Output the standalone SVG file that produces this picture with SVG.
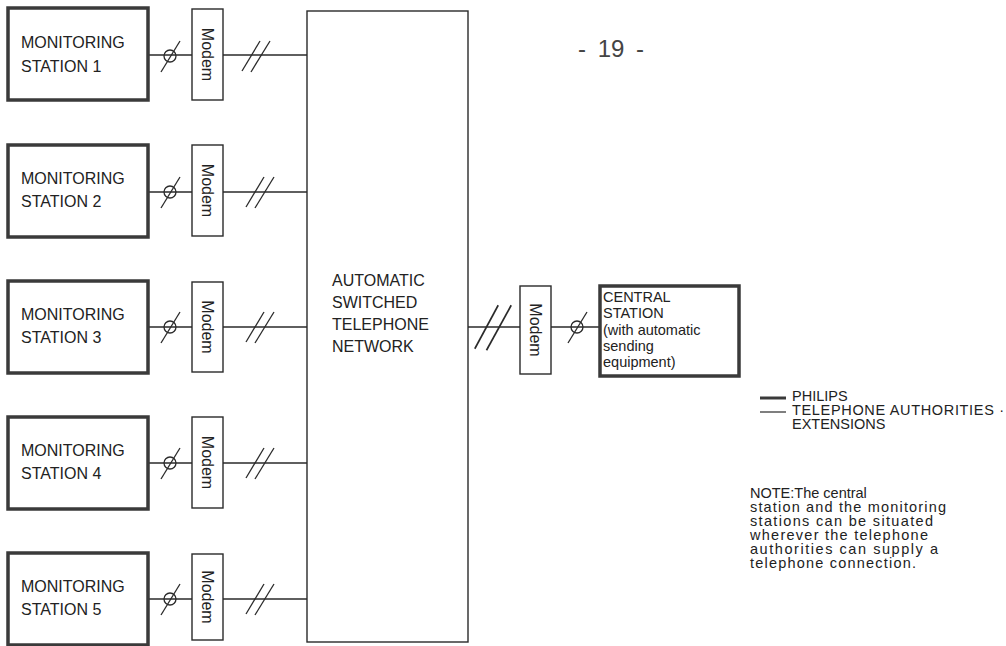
<svg xmlns="http://www.w3.org/2000/svg" width="1006" height="646" viewBox="0 0 1006 646">
<style>
.bg{fill:#fff}
.thick{fill:#fff;stroke:#3a3a3a;stroke-width:3.5}
.thin{fill:#fff;stroke:#2a2a2a;stroke-width:1.4}
.ln{fill:none;stroke:#2a2a2a;stroke-width:1.4}
.t{font-family:"Liberation Sans",Arial,sans-serif;font-size:16px;fill:#222}
.c{font-family:"Liberation Sans",Arial,sans-serif;font-size:14.5px;fill:#222}
.m{font-family:"Liberation Sans",Arial,sans-serif;font-size:16px;fill:#222}
.n{font-family:"Liberation Sans",Arial,sans-serif;font-size:14.5px;fill:#222}
</style>
<defs>
<g id="cs">
<circle cx="0" cy="0" r="6" fill="none" stroke="#2a2a2a" stroke-width="1.3"/>
<line x1="-9" y1="16" x2="10" y2="-15" stroke="#2a2a2a" stroke-width="1.3"/>
</g>
<g id="ds">
<line x1="-14" y1="15" x2="4" y2="-15" stroke="#2a2a2a" stroke-width="1.3"/>
<line x1="-5" y1="16" x2="14" y2="-15" stroke="#2a2a2a" stroke-width="1.3"/>
</g>
</defs>
<rect class="bg" x="0" y="0" width="1006" height="646"/>

<g id="connectors">
<line class="ln" x1="148" y1="55" x2="307" y2="55"/>
<line class="ln" x1="148" y1="192" x2="307" y2="192"/>
<line class="ln" x1="148" y1="327" x2="307" y2="327"/>
<line class="ln" x1="148" y1="463" x2="307" y2="463"/>
<line class="ln" x1="148" y1="599" x2="307" y2="599"/>
<line class="ln" x1="468" y1="327" x2="600" y2="327"/>
<use href="#cs" x="170" y="56"/>
<use href="#cs" x="170" y="192"/>
<use href="#cs" x="170" y="327"/>
<use href="#cs" x="170" y="463"/>
<use href="#cs" x="170" y="599"/>
<use href="#cs" x="577" y="327"/>
<use href="#ds" x="256" y="56"/>
<use href="#ds" x="260" y="192"/>
<use href="#ds" x="260" y="327"/>
<use href="#ds" x="260" y="463"/>
<use href="#ds" x="260" y="599"/>
<g transform="translate(493 327) scale(1.3 1.45)"><use href="#ds"/></g>
</g>

<g id="station1"><rect class="thick" x="8" y="8" width="140" height="92"/><text class="t" x="21" y="48">MONITORING</text><text class="t" x="21" y="72">STATION 1</text></g>
<g id="station2"><rect class="thick" x="8" y="145" width="140" height="92"/><text class="t" x="21" y="184">MONITORING</text><text class="t" x="21" y="207">STATION 2</text></g>
<g id="station3"><rect class="thick" x="8" y="281" width="140" height="92"/><text class="t" x="21" y="320">MONITORING</text><text class="t" x="21" y="343">STATION 3</text></g>
<g id="station4"><rect class="thick" x="8" y="417" width="140" height="92"/><text class="t" x="21" y="456">MONITORING</text><text class="t" x="21" y="479">STATION 4</text></g>
<g id="station5"><rect class="thick" x="8" y="553" width="140" height="92"/><text class="t" x="21" y="592">MONITORING</text><text class="t" x="21" y="615">STATION 5</text></g>

<g id="modem1"><rect class="thin" x="192" y="9" width="31" height="91"/><text class="m" transform="translate(202 54.5) rotate(90)" text-anchor="middle">Modem</text></g>
<g id="modem2"><rect class="thin" x="192" y="145" width="31" height="91"/><text class="m" transform="translate(202 190.5) rotate(90)" text-anchor="middle">Modem</text></g>
<g id="modem3"><rect class="thin" x="192" y="282" width="31" height="90"/><text class="m" transform="translate(202 327) rotate(90)" text-anchor="middle">Modem</text></g>
<g id="modem4"><rect class="thin" x="192" y="417" width="31" height="91"/><text class="m" transform="translate(202 462.5) rotate(90)" text-anchor="middle">Modem</text></g>
<g id="modem5"><rect class="thin" x="192" y="554" width="31" height="86"/><text class="m" transform="translate(202 597) rotate(90)" text-anchor="middle">Modem</text></g>

<g id="network"><rect class="thin" x="307" y="11" width="161" height="631"/>
<text class="t" x="332" y="286">AUTOMATIC</text>
<text class="t" x="332" y="308">SWITCHED</text>
<text class="t" x="332" y="330">TELEPHONE</text>
<text class="t" x="332" y="352">NETWORK</text></g>

<g id="modem6"><rect class="thin" x="520" y="286" width="31" height="88"/><text class="m" transform="translate(530 330) rotate(90)" text-anchor="middle">Modem</text></g>

<g id="central"><rect class="thick" x="600" y="286" width="139" height="90"/>
<text class="c" x="603" y="302">CENTRAL</text>
<text class="c" x="603" y="318">STATION</text>
<text class="c" x="603" y="334.5">(with automatic</text>
<text class="c" x="603" y="351">sending</text>
<text class="c" x="603" y="367">equipment)</text></g>

<g id="pagenum"><text x="611" y="57" text-anchor="middle" style="font-family:'Liberation Sans',Arial,sans-serif;font-size:24px;fill:#444;word-spacing:5px">- 19 -</text></g>

<g id="legend">
<line x1="760" y1="398" x2="786" y2="398" stroke="#3a3a3a" stroke-width="3"/>
<line x1="760" y1="412" x2="786" y2="412" stroke="#2a2a2a" stroke-width="1.2"/>
<text class="n" x="792" y="401">PHILIPS</text>
<text class="n" x="792" y="415" textLength="212" lengthAdjust="spacing">TELEPHONE AUTHORITIES ·</text>
<text class="n" x="792" y="429">EXTENSIONS</text>
</g>

<g id="note">
<text class="n" x="750" y="498">NOTE:The central</text>
<text class="n" x="750" y="512" textLength="196" lengthAdjust="spacing">station and the monitoring</text>
<text class="n" x="750" y="526" textLength="183" lengthAdjust="spacing">stations can be situated</text>
<text class="n" x="750" y="540" textLength="178" lengthAdjust="spacing">wherever the telephone</text>
<text class="n" x="750" y="554" textLength="188" lengthAdjust="spacing">authorities can supply a</text>
<text class="n" x="750" y="568" textLength="166" lengthAdjust="spacing">telephone connection.</text>
</g>
</svg>
